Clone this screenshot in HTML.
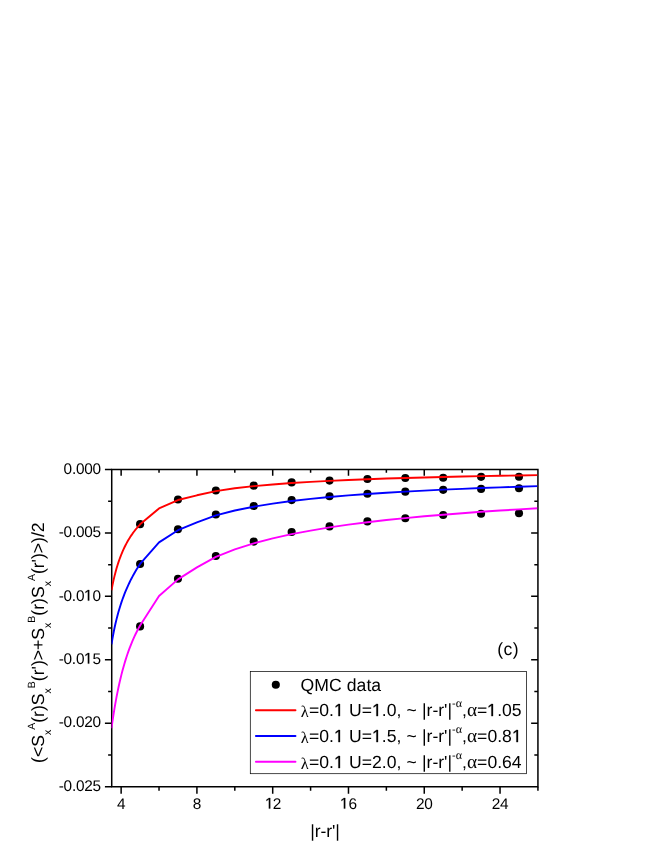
<!DOCTYPE html>
<html><head><meta charset="utf-8"><title>chart</title>
<style>
html,body{margin:0;padding:0;background:#fff;}
body{will-change:transform;text-rendering:geometricPrecision;width:664px;height:860px;position:relative;overflow:hidden;font-family:"Liberation Sans",sans-serif;color:#000;}
.yt{position:absolute;left:0;width:100.85px;text-align:right;font-size:15.4px;line-height:20px;height:20px;white-space:nowrap;letter-spacing:-0.25px;}
.xt{position:absolute;top:794.5px;width:40px;text-align:center;font-size:15.4px;line-height:20px;white-space:nowrap;letter-spacing:-0.25px;}
.lg{position:absolute;left:300.6px;font-size:17.6px;line-height:20px;white-space:nowrap;word-spacing:0.3px;}
.d1{display:inline-block;width:0.5562em;height:0.688em;vertical-align:baseline;fill:#000;stroke:#000;stroke-width:36;stroke-linejoin:miter;overflow:visible;}
.xt .d1,.yt .d1{margin-left:0.25px;margin-right:-0.5px;}
.gk{font-family:"Liberation Serif",serif;position:relative;}
.lam{font-size:0.93em;top:0.6px;margin:0 0.35px 0 0.2px;}
.alp{font-size:1.1em;}
.lg .sp{font-size:11px;position:relative;top:-9.3px;line-height:0;}
.cl{position:absolute;left:497.3px;top:639.1px;font-size:17.6px;line-height:20px;letter-spacing:0.4px;}
.xl{position:absolute;left:295px;width:60px;text-align:center;top:820.9px;font-size:17.6px;line-height:20px;white-space:nowrap;letter-spacing:-0.12px;}
.yl{position:absolute;left:0;top:0;width:0;height:0;}
.yl span{position:absolute;display:block;white-space:nowrap;font-size:17.6px;line-height:20px;transform-origin:0 0;transform:translate(28.4px,762.9px) rotate(-90deg);}
.yl sub,.yl sup{font-size:10.5px;line-height:0;position:relative;vertical-align:baseline;}
.yl sub{top:7.3px;}
.yl sup{top:-8.9px;}
</style></head><body>
<svg width="664" height="860" viewBox="0 0 664 860" style="position:absolute;left:0;top:0">
<defs><clipPath id="cp"><rect x="111.57" y="469.50" width="425.61" height="317.15"/></clipPath></defs>
<g stroke="#000" stroke-width="1.50" fill="none" stroke-linecap="butt">
<path d="M111.72 469.50 H537.93 V786.65 H111.72 Z" stroke-linejoin="miter"/>
<path d="M121.14 786.65 v7.05 M121.14 469.50 v6.35 M159.03 786.65 v4.00 M159.03 469.50 v3.30 M196.92 786.65 v7.05 M196.92 469.50 v6.35 M234.81 786.65 v4.00 M234.81 469.50 v3.30 M272.70 786.65 v7.05 M272.70 469.50 v6.35 M310.59 786.65 v4.00 M310.59 469.50 v3.30 M348.48 786.65 v7.05 M348.48 469.50 v6.35 M386.37 786.65 v4.00 M386.37 469.50 v3.30 M424.26 786.65 v7.05 M424.26 469.50 v6.35 M462.15 786.65 v4.00 M462.15 469.50 v3.30 M500.04 786.65 v7.05 M500.04 469.50 v6.35 M537.93 786.65 v4.00 M111.72 469.50 h-6.80 M111.72 501.21 h-3.60 M537.93 501.21 h-3.60 M111.72 532.93 h-6.80 M537.93 532.93 h-6.80 M111.72 564.64 h-3.60 M537.93 564.64 h-3.60 M111.72 596.36 h-6.80 M537.93 596.36 h-6.80 M111.72 628.08 h-3.60 M537.93 628.08 h-3.60 M111.72 659.79 h-6.80 M537.93 659.79 h-6.80 M111.72 691.50 h-3.60 M537.93 691.50 h-3.60 M111.72 723.22 h-6.80 M537.93 723.22 h-6.80 M111.72 754.93 h-3.60 M537.93 754.93 h-3.60 M111.72 786.65 h-6.80"/>
</g>
<g fill="#000">
<circle cx="140.09" cy="524.15" r="4.05"/>
<circle cx="177.97" cy="499.45" r="4.05"/>
<circle cx="215.87" cy="490.50" r="4.05"/>
<circle cx="253.75" cy="485.64" r="4.05"/>
<circle cx="291.64" cy="482.40" r="4.05"/>
<circle cx="329.54" cy="480.60" r="4.05"/>
<circle cx="367.43" cy="479.00" r="4.05"/>
<circle cx="405.31" cy="478.05" r="4.05"/>
<circle cx="443.20" cy="477.70" r="4.05"/>
<circle cx="481.09" cy="476.85" r="4.05"/>
<circle cx="518.99" cy="476.70" r="4.05"/>
<circle cx="140.09" cy="564.00" r="4.05"/>
<circle cx="177.97" cy="529.20" r="4.05"/>
<circle cx="215.87" cy="514.50" r="4.05"/>
<circle cx="253.75" cy="506.05" r="4.05"/>
<circle cx="291.64" cy="500.10" r="4.05"/>
<circle cx="329.54" cy="496.30" r="4.05"/>
<circle cx="367.43" cy="493.70" r="4.05"/>
<circle cx="405.31" cy="491.66" r="4.05"/>
<circle cx="443.20" cy="489.86" r="4.05"/>
<circle cx="481.09" cy="488.90" r="4.05"/>
<circle cx="518.99" cy="488.20" r="4.05"/>
<circle cx="140.09" cy="626.40" r="4.05"/>
<circle cx="177.97" cy="578.80" r="4.05"/>
<circle cx="215.87" cy="555.95" r="4.05"/>
<circle cx="253.75" cy="541.60" r="4.05"/>
<circle cx="291.64" cy="532.00" r="4.05"/>
<circle cx="329.54" cy="526.40" r="4.05"/>
<circle cx="367.43" cy="521.40" r="4.05"/>
<circle cx="405.31" cy="518.20" r="4.05"/>
<circle cx="443.20" cy="515.00" r="4.05"/>
<circle cx="481.09" cy="513.80" r="4.05"/>
<circle cx="518.99" cy="513.30" r="4.05"/>
</g>
<g clip-path="url(#cp)" fill="none" stroke-width="1.90" stroke-linejoin="round">
<path d="M111.50 590.28 L112.50 585.10 L113.50 580.42 L114.50 576.14 L115.50 572.22 L116.50 568.60 L117.50 565.26 L118.50 562.16 L119.50 559.26 L120.50 556.56 L121.50 554.02 L122.50 551.64 L123.50 549.39 L124.50 547.27 L125.50 545.26 L126.50 543.35 L127.50 541.54 L128.50 539.82 L129.50 538.17 L130.50 536.61 L131.50 535.11 L132.50 533.67 L133.50 532.30 L134.50 530.98 L135.50 529.71 L136.50 528.49 L137.50 527.32 L138.50 526.19 L139.50 525.10 L140.09 524.30 L159.03 508.40 L177.97 500.04 L196.92 495.30 L215.87 491.08 L234.81 488.30 L253.75 486.15 L272.70 484.43 L291.64 483.02 L310.59 481.84 L329.54 480.83 L348.48 479.97 L367.43 479.22 L386.37 478.55 L405.31 477.96 L424.26 477.44 L443.20 476.97 L462.15 476.54 L481.09 476.15 L500.04 475.79 L518.99 475.46 L537.93 475.16 L541.72 475.10" stroke="#ff0000"/>
<path d="M111.50 644.37 L112.50 638.39 L113.50 632.98 L114.50 628.06 L115.50 623.54 L116.50 619.36 L117.50 615.47 L118.50 611.83 L119.50 608.42 L120.50 605.21 L121.50 602.17 L122.50 599.29 L123.50 596.55 L124.50 593.94 L125.50 591.45 L126.50 589.07 L127.50 586.78 L128.50 584.58 L129.50 582.47 L130.50 580.44 L131.50 578.47 L132.50 576.58 L133.50 574.74 L134.50 572.97 L135.50 571.25 L136.50 569.58 L137.50 567.96 L138.50 566.39 L139.50 564.86 L140.09 563.90 L159.03 542.35 L177.97 530.20 L196.92 522.35 L215.87 515.30 L234.81 510.50 L253.75 506.70 L272.70 503.62 L291.64 501.05 L310.59 498.87 L329.54 497.01 L348.48 495.39 L367.43 493.97 L386.37 492.71 L405.31 491.59 L424.26 490.58 L443.20 489.66 L462.15 488.83 L481.09 488.07 L500.04 487.38 L518.99 486.74 L537.93 486.15 L541.72 486.03" stroke="#0000ff"/>
<path d="M111.50 728.24 L112.50 721.15 L113.50 714.54 L114.50 708.37 L115.50 702.59 L116.50 697.16 L117.50 692.06 L118.50 687.25 L119.50 682.72 L120.50 678.43 L121.50 674.38 L122.50 670.54 L123.50 666.89 L124.50 663.42 L125.50 660.13 L126.50 656.99 L127.50 653.99 L128.50 651.14 L129.50 648.40 L130.50 645.79 L131.50 643.29 L132.50 640.89 L133.50 638.59 L134.50 636.39 L135.50 634.27 L136.50 632.23 L137.50 630.27 L138.50 628.38 L139.50 626.57 L140.09 625.50 L159.03 596.00 L177.97 579.40 L196.92 567.35 L215.87 556.85 L234.81 549.40 L253.75 543.37 L272.70 538.39 L291.64 534.18 L310.59 530.57 L329.54 527.43 L348.48 524.68 L367.43 522.24 L386.37 520.05 L405.31 518.08 L424.26 516.30 L443.20 514.68 L462.15 513.19 L481.09 511.82 L500.04 510.56 L518.99 509.39 L537.93 508.30 L541.72 508.09" stroke="#ff00ff"/>
</g>
<rect x="250.3" y="671.6" width="276.2" height="102.1" fill="#fff" stroke="#000" stroke-width="0.72"/>
<circle cx="275.8" cy="684.8" r="4.05" fill="#000"/>
<path d="M255.9 710.30 H295.5" stroke="#ff0000" stroke-width="1.90" stroke-linecap="round"/>
<path d="M255.9 736.00 H295.5" stroke="#0000ff" stroke-width="1.90" stroke-linecap="round"/>
<path d="M255.9 761.75 H295.5" stroke="#ff00ff" stroke-width="1.90" stroke-linecap="round"/>
</svg>
<div class="yt" style="top:459.75px">0.000</div>
<div class="yt" style="top:523.18px">-0.005</div>
<div class="yt" style="top:586.61px">-0.0<svg class="d1" viewBox="0 0 1139 1409" preserveAspectRatio="none"><path d="M515 1409V172L197 399V229L530 0H696V1409Z"/></svg>0</div>
<div class="yt" style="top:650.04px">-0.0<svg class="d1" viewBox="0 0 1139 1409" preserveAspectRatio="none"><path d="M515 1409V172L197 399V229L530 0H696V1409Z"/></svg>5</div>
<div class="yt" style="top:713.47px">-0.020</div>
<div class="yt" style="top:776.90px">-0.025</div>
<div class="xt" style="left:101.14px">4</div>
<div class="xt" style="left:176.92px">8</div>
<div class="xt" style="left:252.70px"><svg class="d1" viewBox="0 0 1139 1409" preserveAspectRatio="none"><path d="M515 1409V172L197 399V229L530 0H696V1409Z"/></svg>2</div>
<div class="xt" style="left:328.48px"><svg class="d1" viewBox="0 0 1139 1409" preserveAspectRatio="none"><path d="M515 1409V172L197 399V229L530 0H696V1409Z"/></svg>6</div>
<div class="xt" style="left:404.26px">20</div>
<div class="xt" style="left:480.04px">24</div>
<div class="lg" style="top:675.25px">QMC data</div>
<div class="lg" style="top:700.35px"><span class="gk lam">λ</span>=0.<svg class="d1" viewBox="0 0 1139 1409" preserveAspectRatio="none"><path d="M515 1409V172L197 399V229L530 0H696V1409Z"/></svg> U=<svg class="d1" viewBox="0 0 1139 1409" preserveAspectRatio="none"><path d="M515 1409V172L197 399V229L530 0H696V1409Z"/></svg>.0, ~ |r-r'|<span class="sp">-<span class="gk alp">α</span></span>,<span class="gk alp">α</span>=<svg class="d1" viewBox="0 0 1139 1409" preserveAspectRatio="none"><path d="M515 1409V172L197 399V229L530 0H696V1409Z"/></svg>.05</div>
<div class="lg" style="top:726.35px"><span class="gk lam">λ</span>=0.<svg class="d1" viewBox="0 0 1139 1409" preserveAspectRatio="none"><path d="M515 1409V172L197 399V229L530 0H696V1409Z"/></svg> U=<svg class="d1" viewBox="0 0 1139 1409" preserveAspectRatio="none"><path d="M515 1409V172L197 399V229L530 0H696V1409Z"/></svg>.5, ~ |r-r'|<span class="sp">-<span class="gk alp">α</span></span>,<span class="gk alp">α</span>=0.8<svg class="d1" viewBox="0 0 1139 1409" preserveAspectRatio="none"><path d="M515 1409V172L197 399V229L530 0H696V1409Z"/></svg></div>
<div class="lg" style="top:752.15px"><span class="gk lam">λ</span>=0.<svg class="d1" viewBox="0 0 1139 1409" preserveAspectRatio="none"><path d="M515 1409V172L197 399V229L530 0H696V1409Z"/></svg> U=2.0, ~ |r-r'|<span class="sp">-<span class="gk alp">α</span></span>,<span class="gk alp">α</span>=0.64</div>
<div class="cl">(c)</div>
<div class="xl">|r-r'|</div>
<div class="yl"><span>(&lt;S<sub>x</sub><sup>A</sup>(r)S<sub>x</sub><sup>B</sup>(r')&gt;+S<sub>x</sub><sup>B</sup>(r)S<sub>x</sub><sup>A</sup>(r')&gt;)/2</span></div>
</body></html>
